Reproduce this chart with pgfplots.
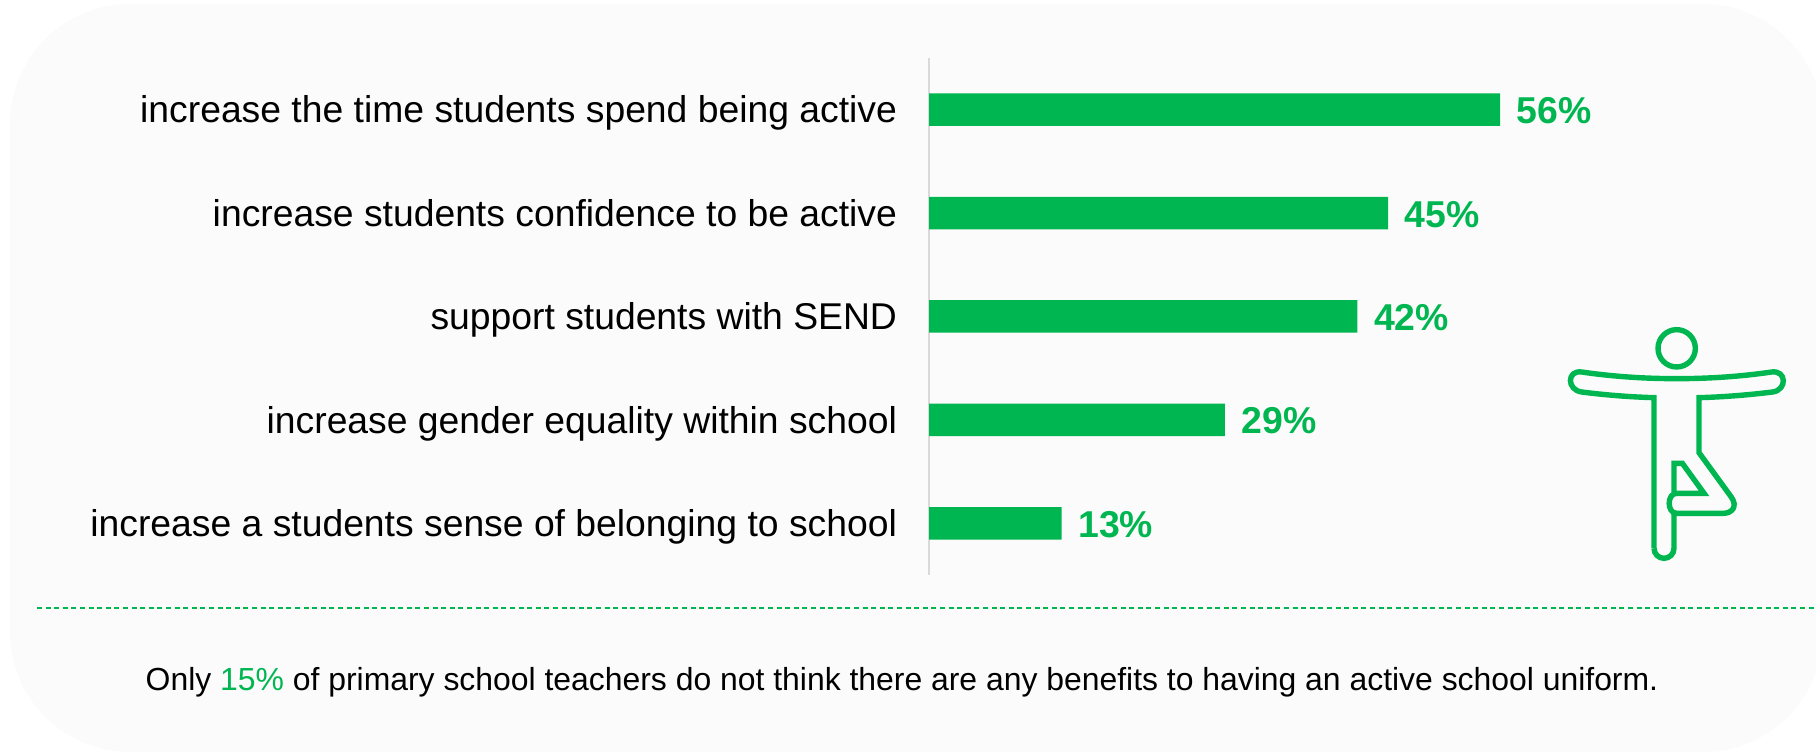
\documentclass[border=0pt]{standalone}
\usepackage{fontspec}
\setmainfont{Liberation Sans}
\usepackage{pgfplots}
\pgfplotsset{compat=1.18}
\definecolor{barg}{HTML}{00B650}
\definecolor{panel}{HTML}{FBFBFB}
\definecolor{axisg}{HTML}{D9D9D9}
\begin{document}
\begin{tikzpicture}
\useasboundingbox (0,0) rectangle (908pt,376.5pt);
% panel, in reference pixels
\begin{scope}[x=0.5pt,y=-0.5pt,shift={(0pt,376.5pt)}]
\fill[panel,rounded corners=60pt] (10,4) rectangle (1823,752);
\draw[barg,line width=0.7pt,dash pattern=on 2.5pt off 1.8pt] (37,608) -- (1816,608);
\node[anchor=center,inner sep=0pt,font=\fontsize{15.95}{19}\selectfont] at (902,682)
  {Only \textcolor{barg}{15\%} of primary school teachers do not think there are any benefits to having an active school uniform.};
\end{scope}
\begin{axis}[
  at={(464.5pt,89pt)}, anchor=south west,
  scale only axis, width=357pt, height=258.5pt,
  xmin=0, xmax=70, ymin=-0.5, ymax=4.5,
  xbar, bar width=16.25pt,
  axis x line=none, axis y line*=left,
  axis line style={draw=axisg,line width=1pt,-},
  ytick={0,1,2,3,4},
  yticklabels={increase a students sense of belonging to school,
    increase gender equality within school,
    support students with SEND,
    increase students confidence to be active,
    increase the time students spend being active},
  major tick length=0pt,
  yticklabel style={inner sep=0pt,xshift=-15.8pt,yshift=-0.5pt,text height=16.3pt,text depth=4pt,font=\fontsize{18.65}{21}\selectfont},
  clip=false,
  /pgf/number format/assume math mode=true,
  nodes near coords={\pgfmathprintnumber{\pgfplotspointmeta}\%},
  every node near coord/.append style={anchor=west,inner sep=0pt,xshift=8.2pt,
    text height=14pt,text depth=0pt,text=barg,font=\fontsize{18.7}{21}\selectfont\bfseries},
]
\addplot[draw=none,fill=barg] coordinates {(13,0) (29,1) (42,2) (45,3) (56,4)};
\end{axis}
% tree pose icon, in 3x pixels of the crop
\begin{scope}[x=0.166667pt,y=-0.166667pt,shift={(725pt,226.5pt)},barg,line width=2.7pt,line join=miter]
\draw (680,145) circle (56);
\draw (612,745) -- (612,293) .. controls (540,291) and (465,285) .. (395,276)
  .. controls (350,270) and (350,210) .. (395,216)
  .. controls (490,230) and (585,236) .. (680,236)
  .. controls (775,236) and (870,230) .. (965,216)
  .. controls (1010,210) and (1012,270) .. (968,276)
  .. controls (895,285) and (820,291) .. (747,293)
  -- (747,458) -- (843,590)
  .. controls (865,620) and (845,640) .. (820,640)
  -- (680,640) .. controls (650,640) and (650,580) .. (680,580)
  -- (762,580) -- (697,490) -- (672,490) -- (672,585);
\draw (672,636) -- (672,745) arc (0:180:30);
\end{scope}
\end{tikzpicture}
\end{document}
